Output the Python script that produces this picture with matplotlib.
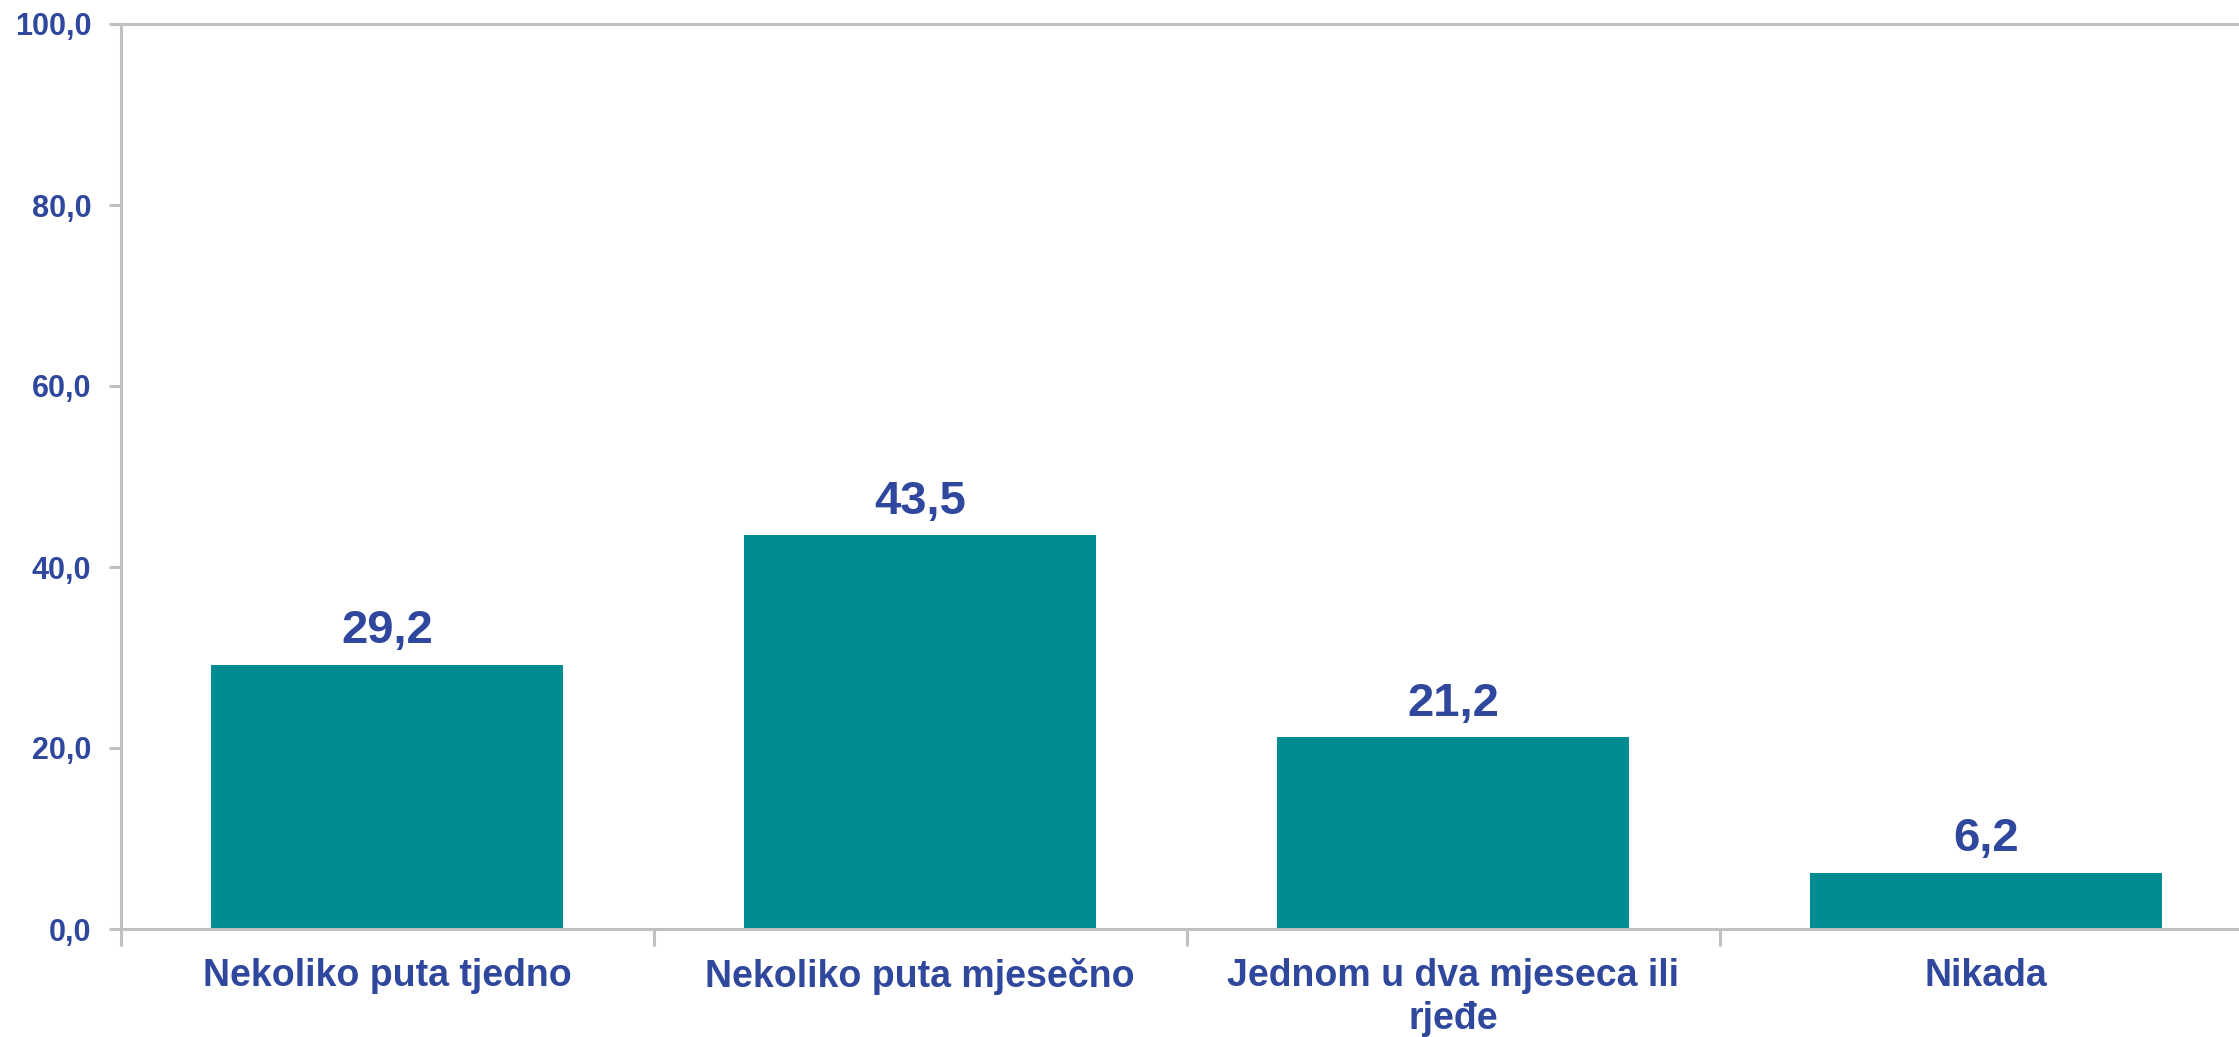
import matplotlib
matplotlib.use("Agg")
import matplotlib.pyplot as plt
from matplotlib.ticker import FuncFormatter

categories = [
    "Nekoliko puta tjedno",
    "Nekoliko puta mjesečno",
    "Jednom u dva mjeseca ili\nrjeđe",
    "Nikada",
]
values = [29.2, 43.5, 21.2, 6.2]
y_ticks = [0, 20, 40, 60, 80, 100]

BAR = "#008C90"
TEXT = "#2F479C"
AXIS = "#C0C0C0"

plt.rcParams["font.family"] = ["Liberation Sans", "DejaVu Sans"]
plt.rcParams["font.weight"] = "bold"

W, H, DPI = 2239, 1037, 100
fig = plt.figure(figsize=(W / DPI, H / DPI), dpi=DPI)
left_px, right_px, top_px, bottom_px = 120.5, 120.5 + 4 * 533, 24, 929
ax = fig.add_axes([left_px / W, 1 - bottom_px / H,
                   (right_px - left_px) / W, (bottom_px - top_px) / H])

x = range(len(categories))
ax.bar(x, values, width=0.66, color=BAR, zorder=2)
ax.set_xlim(-0.5, len(categories) - 0.5)
ax.set_ylim(0, 100)

for xi, v in zip(x, values):
    ax.annotate(f"{v:.1f}".replace(".", ","), (xi, v), xytext=(0, 15.5),
                textcoords="offset points", ha="center", va="baseline",
                fontsize=34, fontweight="bold", color=TEXT)

ax.set_yticks(y_ticks)
ax.yaxis.set_major_formatter(FuncFormatter(lambda v, p: f"{v:.1f}".replace(".", ",")))
ax.tick_params(axis="y", length=9, width=2.2, color=AXIS, labelsize=22,
               labelcolor=TEXT, pad=12)

# category labels centred under bars, ticks between categories
ax.set_xticks([i - 0.5 for i in range(len(categories) + 1)])
ax.set_xticklabels([])
ax.set_xticks(list(x), minor=True)
ax.set_xticklabels(categories, minor=True, fontsize=27, fontweight="bold",
                   color=TEXT, linespacing=1.25)
ax.tick_params(axis="x", which="major", length=12, width=2.2, color=AXIS)
ax.tick_params(axis="x", which="minor", length=0, pad=21)

for side in ["left", "bottom", "top"]:
    ax.spines[side].set_color(AXIS)
    ax.spines[side].set_linewidth(2.2)
ax.spines["right"].set_visible(False)

fig.savefig("out.png", dpi=DPI, facecolor="white")
